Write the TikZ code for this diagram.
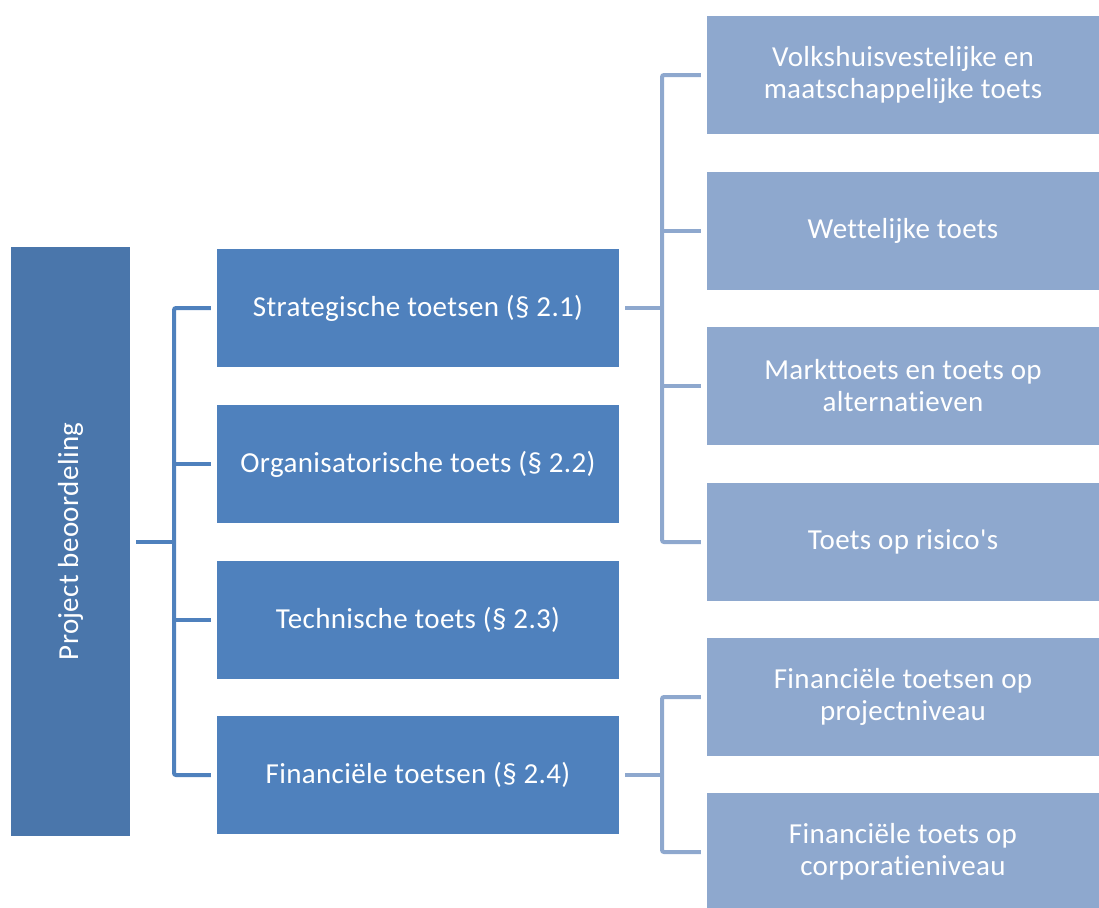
\documentclass[tikz,border=0pt]{standalone}
\usepackage{fontspec}
\setmainfont[Ligatures={CommonOff,TeXOff},LetterSpace=1.2]{Carlito}
\definecolor{rootc}{HTML}{4A76AB}
\definecolor{midc}{HTML}{4F81BD}
\definecolor{leafc}{HTML}{8EA8CE}
\begin{document}
\begin{tikzpicture}[x=1pt,y=-1pt,
  box/.style={draw=none, inner sep=0pt, text=white, align=center,
    font=\fontsize{29}{32}\selectfont},
  rootbox/.style={box, fill=rootc, minimum width=119pt, minimum height=589pt},
  midbox/.style={box, fill=midc, minimum width=402pt, minimum height=118pt},
  leafbox/.style={box, fill=leafc, minimum width=392pt, minimum height=118pt},
  midline/.style={draw=midc, line width=4pt, rounded corners=2pt},
  leafline/.style={draw=leafc, line width=4pt, rounded corners=2pt}]
\useasboundingbox (0,0) rectangle (1099,907);
\node[rootbox] (root) at (70.5,541.5) {};
\node[box, rotate=90] (roottext) at (root.center) {Project beoordeling};
\node[midbox] (s) at (418,308) {Strategische toetsen (§ 2.1)};
\node[midbox] (o) at (418,464) {Organisatorische toets (§ 2.2)};
\node[midbox] (t) at (418,620) {Technische toets (§ 2.3)};
\node[midbox] (f) at (418,775) {Financiële toetsen (§ 2.4)};
\node[leafbox] (l1) at (903,75) {Volkshuisvestelijke en\\maatschappelijke toets};
\node[leafbox] (l2) at (903,231) {Wettelijke toets};
\node[leafbox] (l3) at (903,386) {Markttoets en toets op\\alternatieven};
\node[leafbox] (l4) at (903,542) {Toets op risico's};
\node[leafbox] (l5) at (903,697) {Financiële toetsen op\\projectniveau};
\node[leafbox] (l6) at (903,852) {Financiële toets op\\corporatieniveau};
% level 1 -> 2
\coordinate (b1) at (174,542);
\draw[midline] ([xshift=6pt]root.east |- b1) -- (b1);
\draw[midline] ([xshift=-6pt]s.west) -| (b1) |- ([xshift=-6pt]f.west);
\draw[midline] (b1 |- o.west) -- ([xshift=-6pt]o.west);
\draw[midline] (b1 |- t.west) -- ([xshift=-6pt]t.west);
% strategic -> leaves
\coordinate (b2) at (662,308);
\draw[leafline] ([xshift=6pt]s.east) -- (b2);
\draw[leafline] ([xshift=-6pt]l1.west) -| (b2) |- ([xshift=-6pt]l4.west);
\draw[leafline] (b2 |- l2.west) -- ([xshift=-6pt]l2.west);
\draw[leafline] (b2 |- l3.west) -- ([xshift=-6pt]l3.west);
% financial -> leaves
\coordinate (b3) at (662,775);
\draw[leafline] ([xshift=6pt]f.east) -- (b3);
\draw[leafline] ([xshift=-6pt]l5.west) -| (b3) |- ([xshift=-6pt]l6.west);
\end{tikzpicture}
\end{document}
